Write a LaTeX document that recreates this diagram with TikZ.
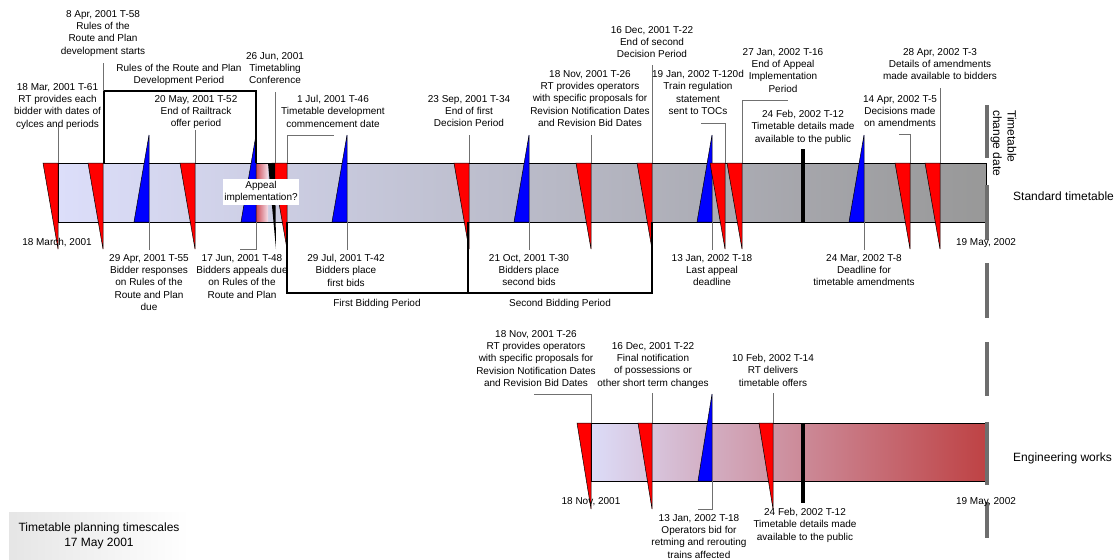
\documentclass[tikz,border=0pt]{standalone}
\usepackage{fontspec}
\setmainfont{Liberation Sans}
\definecolor{leadgray}{RGB}{112,112,112}
\definecolor{limitgray}{RGB}{110,110,110}
\definecolor{stdleft}{RGB}{220,222,250}
\definecolor{stdmid}{RGB}{185,186,200}
\definecolor{stdright}{RGB}{152,152,152}
\definecolor{engleft}{RGB}{220,220,248}
\definecolor{engmid}{RGB}{205,142,157}
\definecolor{engright}{RGB}{190,66,68}
\definecolor{appealdark}{RGB}{205,72,84}
\definecolor{appeallight}{RGB}{245,225,235}
\begin{document}
\begin{tikzpicture}[x=1pt,y=-1pt,
  lbl/.style={font=\fontsize{10}{12.4}\selectfont, align=center, inner sep=0pt,
              anchor=north, yshift=5pt, execute at begin node=\strut},
  big/.style={font=\fontsize{12}{14.5}\selectfont, inner sep=0pt},
  lead/.style={draw=leadgray, line width=0.9pt},
  redtri/.style={fill=red, draw=black, line width=0.5pt},
  bluetri/.style={fill=blue, draw=black, line width=0.5pt},
  period/.style={draw=black, line width=2.4pt},
  marker/.style={draw=black, line width=4pt},
  limit/.style={draw=limitgray, line width=3.5pt},
]
\useasboundingbox (0,0) rectangle (1120,560);

% ---------- standard timetable bar ----------
\shade[left color=stdleft, middle color=stdmid, right color=stdright] (58,163) rectangle (986,222);
\shade[left color=appealdark, right color=appeallight] (256,163) rectangle (268,222);
\draw[line width=0.8pt] (58,163) rectangle (986,222);

% blue markers (tip up)
\foreach \x in {149,256,347,529,712,864}
  \draw[bluetri] (\x-15,222) -- (\x,222) -- (\x,135) -- cycle;
% red markers (tip down)
\foreach \x in {58,103,195,287,469,591,652,725,742,910,940}
  \draw[redtri] (\x-15,163) -- (\x,163) -- (\x,249) -- cycle;
% appeal marker
\fill[black] (268,163) -- (275,163) -- (276,249) -- cycle;
% publication marker
\draw[marker] (803,149) -- (803,222);

% ---------- period brackets ----------
\draw[period] (104,163) -- (104,91) -- (256,91) -- (256,163);
\draw[period] (287,222) -- (287,293) -- (468,293) -- (468,222);
\draw[period] (468,293) -- (652,293) -- (652,222);

% ---------- leader lines (standard timetable) ----------
\coordinate (a58) at (58,125);   \draw[lead] (a58) -- (58,163);
\coordinate (a103) at (103,63);  \draw[lead] (a103) -- (103,91);
\coordinate (a195) at (195,130); \draw[lead] (a195) -- (195,163);
\coordinate (a275) at (275,92);  \draw[lead] (a275) -- (275,163);
\coordinate (a287) at (334,135); \draw[lead] (287,163) -- (287,135) -- (a287);
\coordinate (a469) at (469,135); \draw[lead] (a469) -- (469,163);
\coordinate (a591) at (591,135); \draw[lead] (a591) -- (591,163);
\coordinate (a652) at (652,65);  \draw[lead] (a652) -- (652,163);
\coordinate (a725) at (701,123); \draw[lead] (a725) -- (725,123) -- (725,163);
\coordinate (a742) at (788,100); \draw[lead] (742,163) -- (742,100) -- (a742);
\coordinate (a910) at (899,134); \draw[lead] (a910) -- (910,134) -- (910,163);
\coordinate (a940) at (940,88);  \draw[lead] (a940) -- (940,163);
\coordinate (b149) at (149,250); \draw[lead] (149,222) -- (b149);
\coordinate (b256) at (240,249); \draw[lead] (256,222) -- (256,249) -- (b256);
\coordinate (b347) at (347,250); \draw[lead] (347,222) -- (b347);
\coordinate (b529) at (529,250); \draw[lead] (529,222) -- (b529);
\coordinate (b712) at (712,250); \draw[lead] (712,222) -- (b712);
\coordinate (b864) at (864,250); \draw[lead] (864,222) -- (b864);

% ---------- engineering works bar ----------
\shade[left color=engleft, middle color=engmid, right color=engright] (591,423) rectangle (986,481);
\draw[line width=0.8pt] (591,423) rectangle (986,481);
\foreach \x in {591,652,773}
  \draw[redtri] (\x-14,423) -- (\x,423) -- (\x,509) -- cycle;
\draw[bluetri] (698,481) -- (712,481) -- (712,394) -- cycle;
\draw[marker] (803,423) -- (803,503);
\coordinate (c591) at (534,394); \draw[lead] (c591) -- (591,394) -- (591,423);
\coordinate (c652) at (652,393); \draw[lead] (c652) -- (652,423);
\coordinate (c773) at (773,393); \draw[lead] (c773) -- (773,423);
\coordinate (c712) at (698,509); \draw[lead] (712,481) -- (712,509) -- (c712);

% ---------- timetable change date ----------
\foreach \ya/\yb in {105/158,185/240,263/318,342/396,422/485,502/538}
  \draw[limit] (987,\ya) -- (987,\yb);

% ---------- labels above the standard timetable ----------
\node[lbl] (l18mar) at (57.5,88) {18 Mar, 2001 T-61\\RT provides each\\bidder with dates of\\cylces and periods};
\node[lbl] (l8apr) at (103,15) {8 Apr, 2001 T-58\\Rules of the\\Route and Plan\\development starts};
\node[lbl] (lrules) at (179,69) {Rules of the Route and Plan\\Development Period};
\node[lbl] (l20may) at (196,100) {20 May, 2001 T-52\\End of Railtrack\\offer period};
\node[lbl] (l26jun) at (275,57) {26 Jun, 2001\\Timetabling\\Conference};
\node[lbl] (l1jul) at (333,100) {1 Jul, 2001 T-46\\Timetable development\\commencement date};
\node[lbl] (l23sep) at (469,100) {23 Sep, 2001 T-34\\End of first\\Decision Period};
\node[lbl] (l18nov) at (590,75) {18 Nov, 2001 T-26\\RT provides operators\\with specific proposals for\\Revision Notification Dates\\and Revision Bid Dates};
\node[lbl] (l16dec) at (652,31) {16 Dec, 2001 T-22\\End of second\\Decision Period};
\node[lbl] (l19jan) at (698,75) {19 Jan, 2002 T-120d\\Train regulation\\statement\\sent to TOCs};
\node[lbl] (l27jan) at (783,53) {27 Jan, 2002 T-16\\End of Appeal\\Implementation\\Period};
\node[lbl] (l24feb) at (803,115) {24 Feb, 2002 T-12\\Timetable details made\\available to the public};
\node[lbl] (l14apr) at (900,100) {14 Apr, 2002 T-5\\Decisions made\\on amendments};
\node[lbl] (l28apr) at (940,53) {28 Apr, 2002 T-3\\Details of amendments\\made available to bidders};

% ---------- labels below the standard timetable ----------
\node[lbl] (l18march) at (57,242) {18 March, 2001};
\node[lbl] (l19may) at (986,242) {19 May, 2002};
\node[lbl] (l29apr) at (149,259) {29 Apr, 2001 T-55\\Bidder responses\\on Rules of the\\Route and Plan\\due};
\node[lbl] (l17jun) at (242,259) {17 Jun, 2001 T-48\\Bidders appeals due\\on Rules of the\\Route and Plan};
\node[lbl] (l29jul) at (346,259) {29 Jul, 2001 T-42\\Bidders place\\first bids};
\node[lbl] (l21oct) at (529,259) {21 Oct, 2001 T-30\\Bidders place\\second bids};
\node[lbl] (l13jan) at (712,259) {13 Jan, 2002 T-18\\Last appeal\\deadline};
\node[lbl] (l24mar) at (864,259) {24 Mar, 2002 T-8\\Deadline for\\timetable amendments};
\node[lbl] (lfirst) at (377,303) {First Bidding Period};
\node[lbl] (lsecond) at (560,303) {Second Bidding Period};

\node[font=\fontsize{10}{12}\selectfont, align=center, fill=white, inner xsep=1.5pt, inner ysep=2pt]
  (appeal) at (261,192) {Appeal\\implementation?};

% ---------- labels of the engineering works ----------
\node[lbl] (e18nov) at (536,335) {18 Nov, 2001 T-26\\RT provides operators\\with specific proposals for\\Revision Notification Dates\\and Revision Bid Dates};
\node[lbl] (e16dec) at (653,347) {16 Dec, 2001 T-22\\Final notification\\of possessions or\\other short term changes};
\node[lbl] (e10feb) at (773,359) {10 Feb, 2002 T-14\\RT delivers\\timetable offers};
\node[lbl] (e18novd) at (591,501) {18 Nov, 2001};
\node[lbl] (e19may) at (986,501) {19 May, 2002};
\node[lbl] (e13jan) at (699,519) {13 Jan, 2002 T-18\\Operators bid for\\retming and rerouting\\trains affected};
\node[lbl] (e24feb) at (805,513) {24 Feb, 2002 T-12\\Timetable details made\\available to the public};

% ---------- side captions ----------
\node[big, rotate=-90, anchor=north west, align=left] (change) at (1016.5,110) {Timetable\\change date};
\node[big, anchor=base west] (std) at (1013,200) {Standard timetable};
\node[big, anchor=base west] (eng) at (1013,461) {Engineering works};

% ---------- title box ----------
\node[big, align=center, left color=black!10, right color=white, minimum width=180pt, minimum height=48pt]
  (title) at (99,536) {Timetable planning timescales\\17 May 2001};
\end{tikzpicture}
\end{document}
